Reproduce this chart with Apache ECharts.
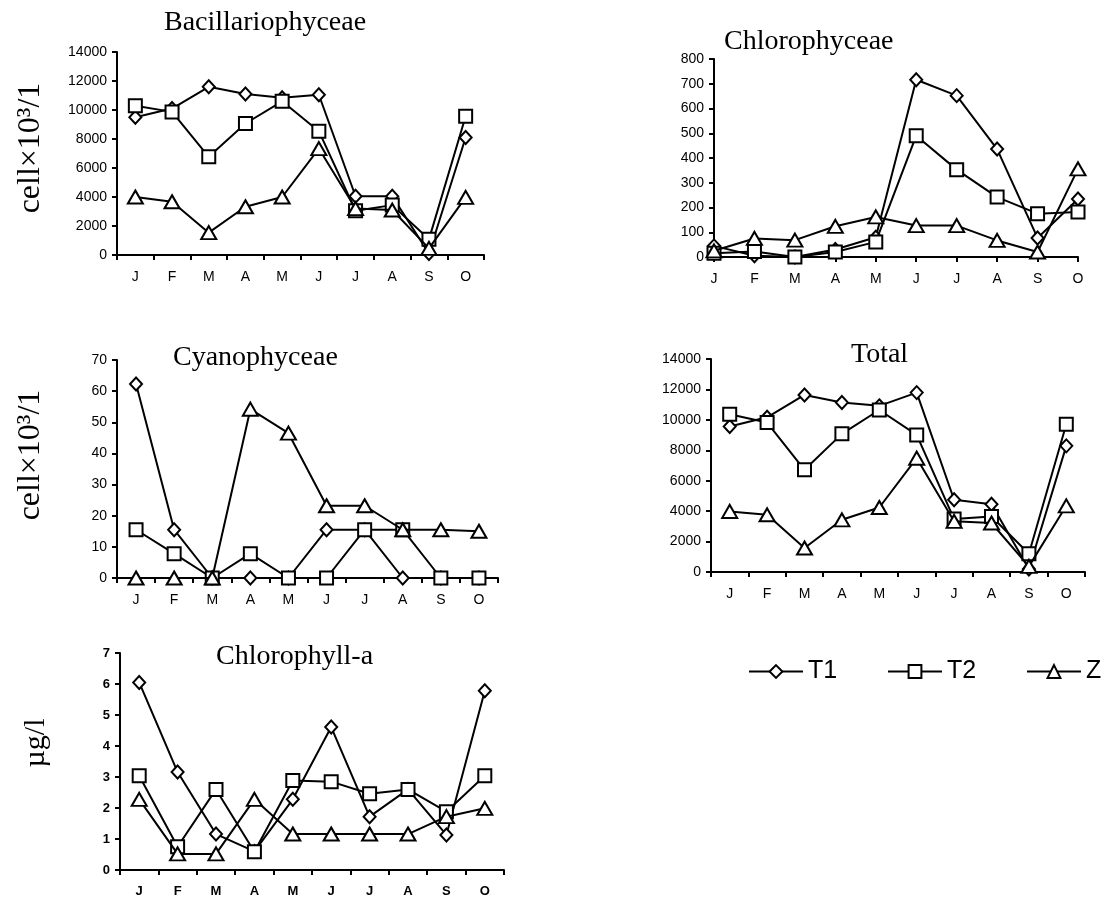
<!DOCTYPE html>
<html><head><meta charset="utf-8">
<script src="https://cdn.jsdelivr.net/npm/echarts@6/dist/echarts.min.js"></script>
<style>html,body{margin:0;padding:0;background:#fff}#c{width:1106px;height:904px}</style>
</head><body><div id="c"></div>
<script>
const months = ['J','F','M','A','M','J','J','A','S','O'];
const seriesNames = ['T1','T2','Z'];
const titles = ['Bacillariophyceae','Chlorophyceae','Cyanophyceae','Total','Chlorophyll-a'];
const yMax = [14000,800,70,14000,7];
const yStep = [2000,100,10,2000,1];

const bacT1 = [9500,10100,11600,11100,10850,11050,4050,4050,100,8100];
const bacT2 = [10300,9870,6770,9070,10600,8540,3050,3440,1080,9570];
const bacZ  = [4000,3670,1540,3330,4000,7340,3200,3100,460,3970];

const chlT1 = [45,5,0,30,80,716,652,436,77,234];
const chlT2 = [15,22,0,20,61,490,353,242,175,182];
const chlZ  = [25,75,68,124,162,127,127,67,20,356];

const cyaT1 = [62.3,15.5,0,0,0,15.5,15.5,0,0,0];
const cyaT2 = [15.5,7.8,0,7.8,0,0,15.5,15.5,0,0];
const cyaZ  = [0,0,0,54.2,46.5,23.2,23.2,15.5,15.5,15.0];

const totT1 = [9560,10170,11640,11140,10920,11790,4750,4460,200,8290];
const totT2 = [10370,9820,6720,9080,10650,9010,3480,3650,1200,9710];
const totZ  = [3980,3760,1580,3430,4240,7480,3330,3220,370,4350];

const chaT1 = [6.05,3.16,1.16,0.6,2.28,4.61,1.72,2.6,1.13,5.78];
const chaT2 = [3.04,0.75,2.6,0.59,2.89,2.85,2.46,2.6,1.88,3.04];
const chaZ  = [2.28,0.52,0.52,2.28,1.16,1.16,1.16,1.16,1.72,1.99];

const panelData = [
  [bacT1,bacT2,bacZ],
  [chlT1,chlT2,chlZ],
  [cyaT1,cyaT2,cyaZ],
  [totT1,totT2,totZ],
  [chaT1,chaT2,chaZ]
];

const grids = [
  {left:117, top:52, width:367, height:203},
  {left:714, top:59, width:364, height:198},
  {left:117, top:360, width:381, height:218},
  {left:711, top:359, width:374, height:213},
  {left:120, top:653, width:384, height:217}
];
const titlePos = [[164,9],[724,28],[173,344],[851,341],[216,643]];
const symbols = ['diamond','rect','triangle'];
const symSizes = [[12,13],[13,13],[15,13]];
const SANS = 'Arial, "Liberation Sans", sans-serif';
const SERIF = '"Times New Roman", "Liberation Serif", serif';

const xAxes = grids.map((g,i)=>({
  type:'category', gridIndex:i, data:months, boundaryGap: i!==1,
  axisLine:{onZero:false, lineStyle:{color:'#000',width:2}},
  axisTick:{show:true, inside:false, length:5, lineStyle:{color:'#000',width:2}},
  axisLabel:{color:'#000', fontSize: i===4?13:14, fontFamily:SANS, fontWeight: i===4?'bold':'normal', margin:15, interval:0},
  splitLine:{show:false}
}));
const yAxes = grids.map((g,i)=>({
  type:'value', gridIndex:i, min:0, max:yMax[i], interval:yStep[i],
  axisLine:{show:true, lineStyle:{color:'#000',width:2}},
  axisTick:{show:true, inside:false, length:5, lineStyle:{color:'#000',width:2}},
  axisLabel:{color:'#000', fontSize: i===4?13:14, fontFamily:SANS, fontWeight: i===4?'bold':'normal', margin:10,
    formatter: v => String(v)},
  splitLine:{show:false}
}));
const series = [];
panelData.forEach((arrs,i)=>{
  arrs.forEach((d,k)=>{
    series.push({
      type:'line', name:seriesNames[k], xAxisIndex:i, yAxisIndex:i, data:d,
      symbol:symbols[k], symbolSize:symSizes[k], showAllSymbol:true,
      lineStyle:{color:'#000', width:2},
      itemStyle:{color:'#fff', borderColor:'#000', borderWidth:2},
      emphasis:{disabled:true}, z:2+k, clip:false
    });
  });
});
const legendLeft = [748,887,1026];
const legends = seriesNames.map((n,k)=>({
  data:[n], left:legendLeft[k], top:659, itemWidth:54, itemHeight:16, itemGap:5, padding:0,
  selectedMode:false,
  textStyle:{fontSize:25, fontFamily:SANS, color:'#000'}
}));
const yLabel = (txt,x,y,fs)=>({
  type:'text', x:x, y:y, rotation:Math.PI/2,
  style:{text:txt, font:fs+'px '+SERIF, fill:'#000', align:'center', verticalAlign:'middle', textAlign:'center', textVerticalAlign:'middle'}
});
const option = {
  animation:false,
  backgroundColor:'#fff',
  title: titles.map((t,i)=>({text:t, left:titlePos[i][0], top:titlePos[i][1], padding:0,
    textStyle:{fontSize:28, fontFamily:SERIF, fontWeight:'normal', color:'#000'}})),
  grid: grids,
  xAxis: xAxes,
  yAxis: yAxes,
  legend: legends,
  series: series,
  graphic: [
    yLabel('cell×10³/1', 31, 148, 32),
    yLabel('cell×10³/1', 31, 455, 32),
    yLabel('µg/l', 36, 743, 30)
  ]
};
const chart = echarts.init(document.getElementById('c'), null, {renderer:'canvas'});
chart.setOption(option);
</script>
</body></html>
